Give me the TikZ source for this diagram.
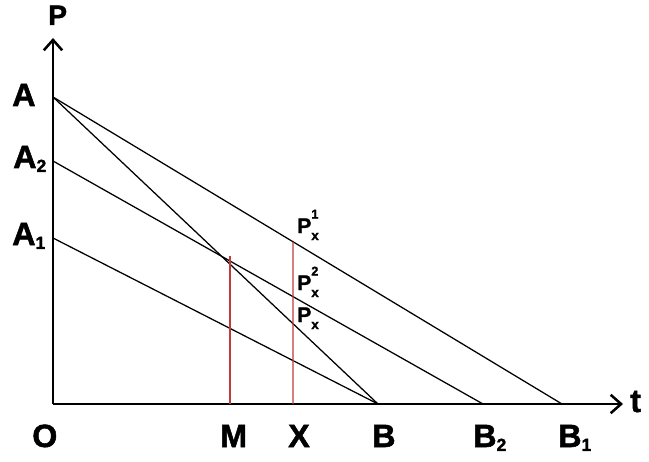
\documentclass[tikz,border=0pt]{standalone}
\usepackage{fontspec}
\setmainfont{Liberation Sans}
\newfontfamily\heavyfont{Liberation Sans}[BoldFeatures={FakeBold=1.6}]
\usetikzlibrary{arrows.meta,intersections,calc}
\definecolor{dropred}{RGB}{190,60,60}
\newcommand{\lsub}[1]{\raisebox{-2.8pt}{\fontsize{12.5}{13}\selectfont #1}}
\newcommand{\pxlab}[2]{P\rlap{\raisebox{10.3pt}{\fontsize{9}{9}\selectfont #1}}\raisebox{-5pt}{\fontsize{9.5}{9}\selectfont #2}}

\begin{document}
\begin{tikzpicture}[x=0.025cm,y=0.025cm,
  ax/.style={line width=2.1pt,-{Straight Barb[length=2.6mm,width=4.6mm,line width=1.8pt]}},
  ln/.style={line width=0.9pt},
  drop/.style={line width=0.8pt,dropred},
  lbl/.style={inner sep=0pt,anchor=base west,font=\heavyfont\bfseries\fontsize{22.9}{26}\selectfont},
  plbl/.style={inner sep=0pt,anchor=base west,font=\heavyfont\bfseries\fontsize{15}{18}\selectfont}]
\useasboundingbox (0,0) rectangle (649,461);
% axes and points
\coordinate (O) at (53,57);
\coordinate (ytip) at (53,423);
\coordinate (xtip) at (623,57);
\coordinate (A) at (53,364);
\coordinate (A2) at (53,300);
\coordinate (A1) at (53,223);
\coordinate (B) at (378,57);
\coordinate (B2) at (483,57);
\coordinate (B1) at (562,57);
\coordinate (Mf) at (230,57);
\coordinate (Xf) at (293,57);
\draw[ax] (O) -- (ytip);
\draw[ax] (O) -- (xtip);
% demand lines
\draw[ln,name path=ab] (A) -- (B);
\draw[ln,name path=ab1] (A) -- (B1);
\draw[ln,name path=a2b2] (A2) -- (B2);
\draw[ln] (A1) -- (B);
% drops
\path[name path=xv] (Xf) -- ++(0,300);
\path[name intersections={of=ab and a2b2,by=Mt}];
\path[name intersections={of=ab1 and xv,by=Xt}];
\draw[drop] (Mf) -- (Mt -| Mf);
\draw[drop] (Xf) -- (Xt);
% labels
\node[lbl,font=\heavyfont\bfseries\fontsize{20}{24}\selectfont] (lP) at (48,436) {P};
\node[lbl] (lt) at (630,49) {t};
\node[lbl] (lA) at (12,355) {A};
\node[lbl] (lA2) at (13,293) {A\lsub{2}};
\node[lbl] (lA1) at (12,216) {A\lsub{1}};
\node[lbl] (lO) at (32,14) {O};
\node[lbl] (lM) at (220,14) {M};
\node[lbl] (lX) at (288,14) {X};
\node[lbl] (lB) at (372,14) {B};
\node[lbl] (lB2) at (473,14) {B\lsub{2}};
\node[lbl] (lB1) at (558,14) {B\lsub{1}};
\node[plbl] (px1) at (297,228) {\pxlab{1}{x}};
\node[plbl] (px2) at (297,171) {\pxlab{2}{x}};
\node[plbl] (px) at (297,139) {\pxlab{}{x}};
\end{tikzpicture}
\end{document}
